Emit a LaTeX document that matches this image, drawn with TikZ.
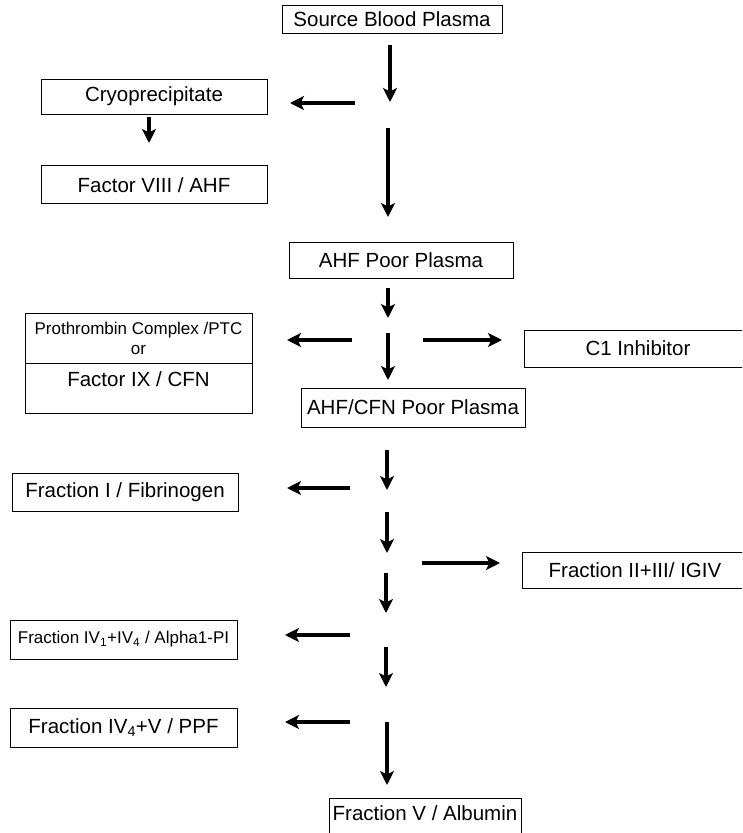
\documentclass[tikz,border=0pt]{standalone}
\usepackage{fontspec}
\setmainfont{Liberation Sans}
\usetikzlibrary{positioning, arrows.meta}

\begin{document}
\begin{tikzpicture}[
  x=1pt, y=-1pt,
  every node/.style={font=\fontsize{20.5}{24}\selectfont},
  box/.style={draw, line width=0.9pt, inner sep=0pt},
  smallbox/.style={box, font=\fontsize{17}{20}\selectfont},
  arr/.style={-{Stealth[length=14pt, width=14pt, inset=3.5pt]}, line width=3.4pt}
]
  \useasboundingbox (0,0) rectangle (742,833);
  \clip (0,0) rectangle (742,833);

  % main column
  \node[box, minimum width=220pt, minimum height=28pt] (src) at (392,19) {Source Blood Plasma};
  \node[box, minimum width=224pt, minimum height=36pt] (ahfpoor) at (401,260) {AHF Poor Plasma};
  \node[box, minimum width=224pt, minimum height=39pt] (cfnpoor) at (413,407.5) {AHF/CFN Poor Plasma};
  \node[box, anchor=north, minimum width=192pt, inner ysep=7.6pt, text height=14.7pt, text depth=22pt] (frac5) at (425,798) {Fraction V / Albumin};

  % products
  \node[box, minimum width=226pt, minimum height=35pt] (cryo) at (154,96.5) {Cryoprecipitate};
  \node[box, minimum width=226pt, minimum height=38pt, below=51pt of cryo] (fac8) {Factor VIII / AHF};
  \node[smallbox, minimum width=227pt, minimum height=50pt, align=center] (ptc) at (138.5,338) {Prothrombin Complex /PTC\\or};
  \node[box, minimum width=227pt, inner ysep=8pt, text height=14.5pt, text depth=19.5pt, below=0pt of ptc] (fac9) {Factor IX / CFN};
  \node[box, minimum width=228pt, minimum height=37pt] (c1) at (638,348.5) {C1 Inhibitor};
  \node[box, minimum width=226pt, minimum height=38pt] (frac1) at (125,492) {Fraction I / Fibrinogen};
  \node[box, minimum width=226pt, minimum height=36pt] (frac23) at (635,570) {Fraction II+III/ IGIV};
  \node[smallbox, minimum width=227pt, minimum height=39pt] (frac4) at (123.5,639.5) {Fraction IV\textsubscript{1}+IV\textsubscript{4} / Alpha1-PI};
  \node[box, minimum width=227pt, minimum height=39pt] (frac4v) at (123.5,727.5) {Fraction IV\textsubscript{4}+V / PPF};

  % arrow ends
  \coordinate (s1) at (390,45);  \coordinate (t1) at (390,102);
  \coordinate (s2) at (355,103); \coordinate (t2) at (290,103);
  \coordinate (s3) at (149,117); \coordinate (t3) at (149,143);
  \coordinate (s4) at (388,128); \coordinate (t4) at (388,217);
  \coordinate (s5) at (388,288); \coordinate (t5) at (388,318);
  \coordinate (s6) at (352,340); \coordinate (t6) at (287,340);
  \coordinate (s7) at (388,333); \coordinate (t7) at (388,380);
  \coordinate (s8) at (423,340); \coordinate (t8) at (502,340);
  \coordinate (s9) at (387,450); \coordinate (t9) at (387,490);
  \coordinate (s10) at (350,488); \coordinate (t10) at (287,488);
  \coordinate (s11) at (387,512); \coordinate (t11) at (387,553);
  \coordinate (s12) at (422,563); \coordinate (t12) at (500,563);
  \coordinate (s13) at (386,573); \coordinate (t13) at (386,613);
  \coordinate (s14) at (350,635); \coordinate (t14) at (285,635);
  \coordinate (s15) at (386,647); \coordinate (t15) at (386,687);
  \coordinate (s16) at (350,722); \coordinate (t16) at (285,722);
  \coordinate (s17) at (387,722); \coordinate (t17) at (387,785);

  \draw[arr] (s1) -- (t1);
  \draw[arr] (s2) -- (t2);
  \draw[arr] (s3) -- (t3);
  \draw[arr] (s4) -- (t4);
  \draw[arr] (s5) -- (t5);
  \draw[arr] (s6) -- (t6);
  \draw[arr] (s7) -- (t7);
  \draw[arr] (s8) -- (t8);
  \draw[arr] (s9) -- (t9);
  \draw[arr] (s10) -- (t10);
  \draw[arr] (s11) -- (t11);
  \draw[arr] (s12) -- (t12);
  \draw[arr] (s13) -- (t13);
  \draw[arr] (s14) -- (t14);
  \draw[arr] (s15) -- (t15);
  \draw[arr] (s16) -- (t16);
  \draw[arr] (s17) -- (t17);
\end{tikzpicture}
\end{document}
